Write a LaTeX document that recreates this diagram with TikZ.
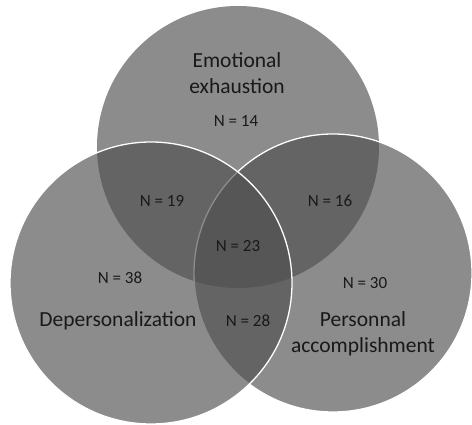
\documentclass[tikz,border=0pt]{standalone}
\usepackage{fontspec}
\setmainfont{Carlito}
\tikzset{
  set/.style={fill=black!69,fill opacity=0.65,draw=white,draw opacity=1,line width=1.3pt},
  setname/.style={align=center,font=\fontsize{21.5}{26}\selectfont,text=black!90},
  count/.style={font=\fontsize{17}{19}\selectfont,text=black!90}
}
\begin{document}
\begin{tikzpicture}[x=1pt,y=-1pt]
    \useasboundingbox (0,0) rectangle (472,425);
    \fill[white] (0,0) rectangle (472,425);
    \draw[set,draw=none] (238,147) circle (141);
    \draw[set] (333,273) circle (139);
    \draw[set] (151,283) circle (141);
    \node[setname] (emo) at (237,73) {Emotional\\exhaustion};
    \node[setname] (dep) at (118,321) {Depersonalization};
    \node[setname] (pers) at (363,334) {Personnal\\accomplishment};
    \node[count] (emoonly) at (236,121) {N = 14};
    \node[count] (emodep) at (162,201) {N = 19};
    \node[count] (emopers) at (330,201) {N = 16};
    \node[count] (all) at (238,246) {N = 23};
    \node[count] (deponly) at (120,278) {N = 38};
    \node[count] (persyonly) at (365,283) {N = 30};
    \node[count] (deppers) at (248,321) {N = 28};
\end{tikzpicture}
\end{document}
